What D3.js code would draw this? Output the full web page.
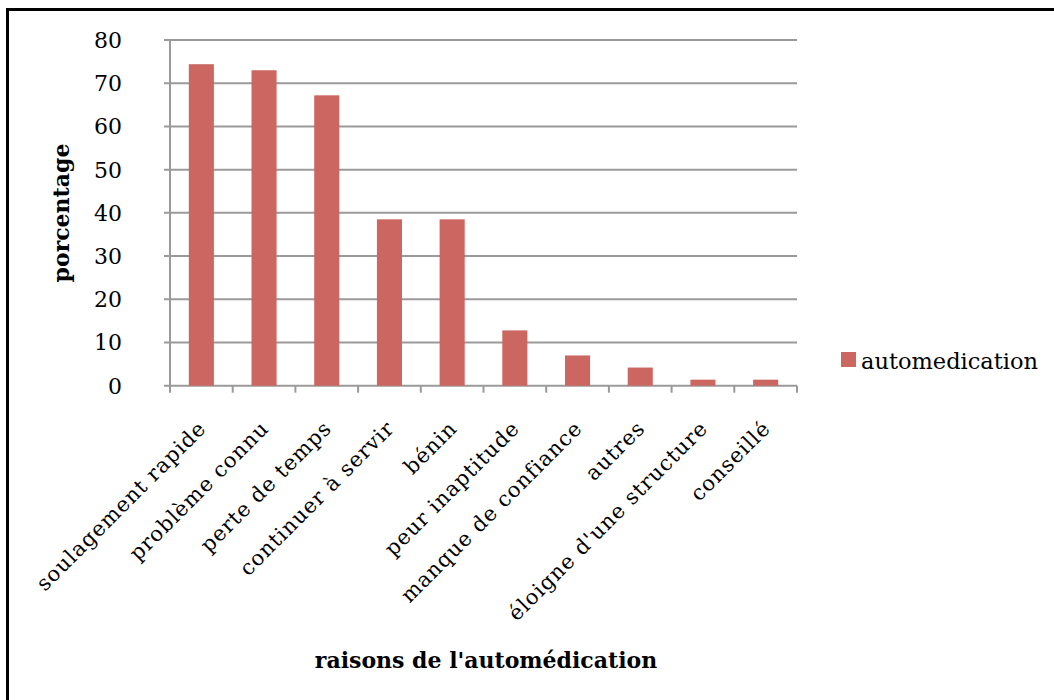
<!DOCTYPE html>
<html><head><meta charset="utf-8">
<script src="https://cdn.jsdelivr.net/npm/d3@7"></script>
<style>html,body{margin:0;padding:0;background:#fff;}svg{display:block;}</style>
</head><body>
<svg id="chart" width="1054" height="700"></svg>
<script>
const categories = ["soulagement rapide","problème connu","perte de temps","continuer à servir","bénin","peur inaptitude","manque de confiance","autres","éloigne d'une structure","conseillé"];
const values = [74.4, 73.0, 67.2, 38.5, 38.5, 12.8, 7.0, 4.2, 1.4, 1.4];
const yTicks = [0,10,20,30,40,50,60,70,80];
const seriesName = "automedication";
const yTitle = "porcentage";
const xTitle = "raisons de l'automédication";

const svg = d3.select("#chart");
const serif = "'DejaVu Serif', serif";
const barColor = "#cc6660";
const gridColor = "#9a9a9a";

svg.append("rect").attr("width",1054).attr("height",700).attr("fill","#fff");
svg.append("rect").attr("x",7.5).attr("y",9.5).attr("width",1060).attr("height",710)
  .attr("fill","none").attr("stroke","#000").attr("stroke-width",3);

const x0 = 170, x1 = 797, yTop = 40, yBot = 385.7;
const x = d3.scaleBand().domain(categories).range([x0,x1]).paddingInner(0.6).paddingOuter(0.3);
const xb = d3.scaleBand().domain(categories).range([x0,x1]);
const y = d3.scaleLinear().domain([0,80]).range([yBot,yTop]);

// gridlines
svg.append("g").selectAll("line").data(yTicks).join("line")
  .attr("x1",x0-6).attr("x2",x1).attr("y1",d=>y(d)).attr("y2",d=>y(d))
  .attr("stroke",gridColor).attr("stroke-width",2);
// y axis line
svg.append("line").attr("x1",x0).attr("x2",x0).attr("y1",yTop).attr("y2",yBot+1)
  .attr("stroke",gridColor).attr("stroke-width",2);
// x ticks at category boundaries
const bounds = categories.map(c=>xb(c)).concat([x1]);
svg.append("g").selectAll("line").data(bounds).join("line")
  .attr("x1",d=>d).attr("x2",d=>d).attr("y1",yBot).attr("y2",yBot+7)
  .attr("stroke",gridColor).attr("stroke-width",2);

// bars
svg.append("g").selectAll("rect").data(values).join("rect")
  .attr("x",(d,i)=>x(categories[i])).attr("width",x.bandwidth())
  .attr("y",d=>y(d)).attr("height",d=>yBot-y(d)).attr("fill",barColor);

// y tick labels
svg.append("g").selectAll("text").data(yTicks).join("text")
  .attr("x",122).attr("y",d=>y(d)).attr("dy","0.36em").attr("text-anchor","end")
  .attr("font-family",serif).attr("font-size",22).attr("fill","#000").text(d=>d);

// x category labels
svg.append("g").selectAll("text").data(categories).join("text")
  .attr("transform",c=>`translate(${xb(c)+xb.bandwidth()/2+6},${yBot+44}) rotate(-45)`)
  .attr("text-anchor","end").attr("font-family",serif).attr("font-size",21)
  .attr("letter-spacing",1).attr("fill","#000").text(c=>c);

// y title
svg.append("text").attr("transform","translate(69,213) rotate(-90)").attr("text-anchor","middle")
  .attr("font-family",serif).attr("font-weight","bold").attr("font-size",22).text(yTitle);

// x title
svg.append("text").attr("x",486).attr("y",668).attr("text-anchor","middle")
  .attr("font-family",serif).attr("font-weight","bold").attr("font-size",22).text(xTitle);

// legend
svg.append("rect").attr("x",841).attr("y",352).attr("width",15).attr("height",15).attr("fill",barColor);
svg.append("text").attr("x",861).attr("y",369).attr("font-family",serif).attr("font-size",22.5).text(seriesName);
</script>
</body></html>
